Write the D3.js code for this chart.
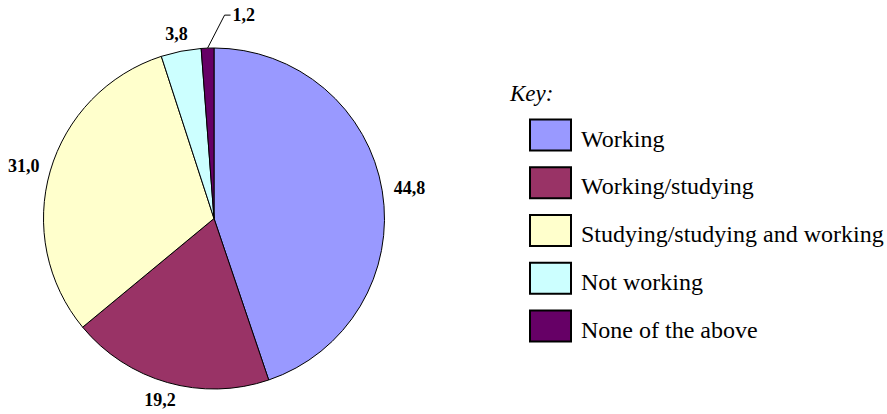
<!DOCTYPE html>
<html>
<head>
<meta charset="utf-8">
<script src="https://cdn.jsdelivr.net/npm/d3@7"></script>
</head>
<body style="margin:0">
<svg id="chart" width="887" height="414"></svg>
<script>
// chart data
const categories = ["Working", "Working/studying", "Studying/studying and working", "Not working", "None of the above"];
const values = [44.8, 19.2, 31.0, 3.8, 1.2];
const labels = ["44,8", "19,2", "31,0", "3,8", "1,2"];
const colors = ["#9999FF", "#993366", "#FFFFCC", "#CCFFFF", "#660066"];

const FONT = "Liberation Serif";

const svg = d3.select("#chart").attr("font-family", FONT);
const cx = 214, cy = 218.5, r = 170.5;

const pie = d3.pie().sort(null).value(d => d.value);
const arcs = pie(values.map((v, i) => ({ value: v, i: i })));
const arc = d3.arc().innerRadius(0).outerRadius(r);

const g = svg.append("g").attr("transform", `translate(${cx},${cy})`);

g.selectAll("path")
  .data(arcs)
  .join("path")
  .attr("d", arc)
  .attr("fill", d => colors[d.data.i])
  .attr("stroke", "#000")
  .attr("stroke-width", 1);

// data labels, placed just outside the rim
const gap = 12;

arcs.forEach(d => {
  const a = (d.startAngle + d.endAngle) / 2;
  const sx = Math.sin(a), sy = -Math.cos(a);
  const lbl = labels[d.data.i];

  if (d.value < 2) {
    // small slice: leader line to a label up and to the right
    const p0 = [sx * r, sy * r];
    const p1 = [p0[0] + 17, p0[1] - 33];
    const p2 = [p1[0] + 6, p1[1]];
    g.append("polyline")
      .attr("points", [p0, p1, p2].map(p => p.join(",")).join(" "))
      .attr("fill", "none")
      .attr("stroke", "#000")
      .attr("stroke-width", 1);
    g.append("text")
      .attr("x", p2[0] + 2)
      .attr("y", p2[1])
      .attr("dy", "0.35em")
      .attr("font-family", FONT)
      .attr("font-size", 18)
      .attr("font-weight", "bold")
      .text(lbl);
    return;
  }

  // approx width of a bold label: digits 0.5em, comma 0.25em
  const w = (lbl.length - 0.5) * 9;
  const h = 12;
  const x = sx * (r + gap) + sx * w / 2;
  const y = sy * (r + gap) + sy * h / 2;
  g.append("text")
    .attr("x", x)
    .attr("y", y)
    .attr("dy", "0.35em")
    .attr("text-anchor", "middle")
    .attr("font-family", FONT)
    .attr("font-size", 18)
    .attr("font-weight", "bold")
    .text(lbl);
});

// legend
svg.append("text")
  .attr("x", 510)
  .attr("y", 101)
  .attr("font-family", FONT)
  .attr("font-size", 23)
  .attr("font-style", "italic")
  .text("Key:");

const rowY = d3.scaleLinear().domain([0, 4]).range([119.5, 310.5]);

svg.selectAll("rect.key")
  .data(categories)
  .join("rect")
  .attr("class", "key")
  .attr("x", 530)
  .attr("y", (d, i) => rowY(i))
  .attr("width", 41)
  .attr("height", 31)
  .attr("fill", (d, i) => colors[i])
  .attr("stroke", "#000")
  .attr("stroke-width", 2);

svg.selectAll("text.key")
  .data(categories)
  .join("text")
  .attr("class", "key")
  .attr("x", 581)
  .attr("y", (d, i) => rowY(i) + 27)
  .attr("font-family", FONT)
  .attr("font-size", 24)
  .text(d => d);
</script>
</body>
</html>
